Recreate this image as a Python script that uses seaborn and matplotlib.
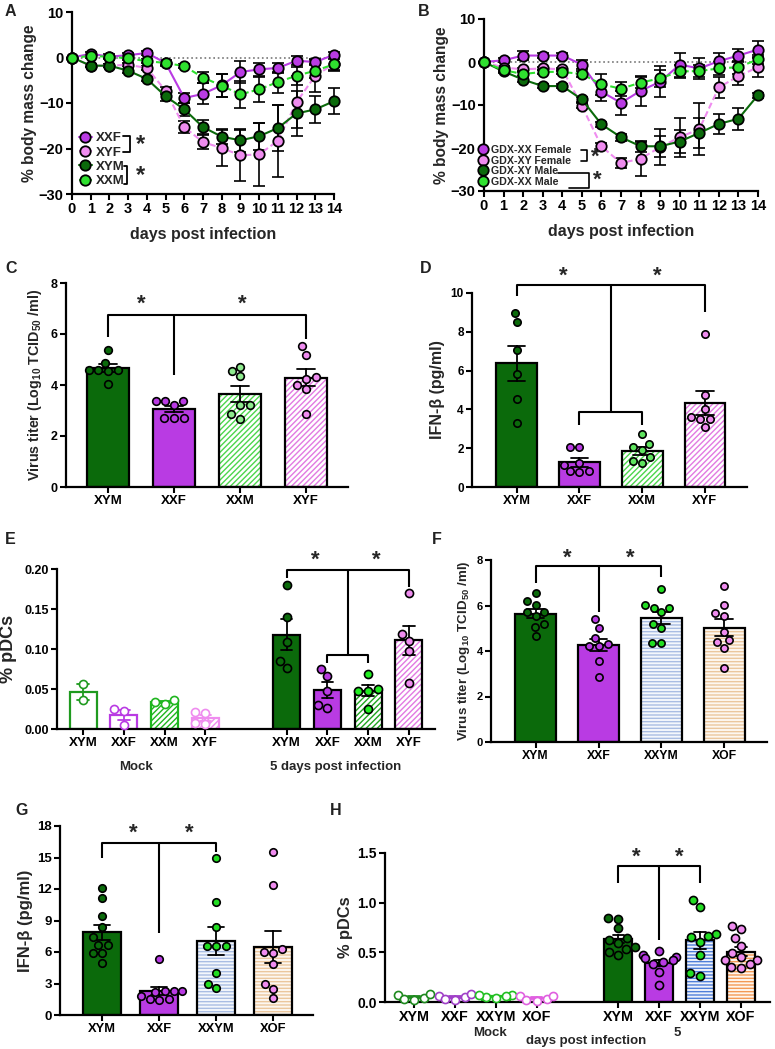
import numpy as np
import pandas as pd
import matplotlib
matplotlib.use('Agg')
import matplotlib.pyplot as plt
import seaborn as sns
from matplotlib.patches import Rectangle

sns.set_style('ticks')
plt.rcParams['font.family'] = ['Liberation Sans', 'DejaVu Sans']
plt.rcParams['font.weight'] = 'bold'
plt.rcParams['axes.labelweight'] = 'bold'
plt.rcParams['mathtext.fontset'] = 'custom'
plt.rcParams['mathtext.rm'] = 'Liberation Sans:bold'
plt.rcParams['mathtext.it'] = 'Liberation Sans:bold:italic'
plt.rcParams['mathtext.bf'] = 'Liberation Sans:bold'
plt.rcParams['mathtext.default'] = 'rm'
plt.rcParams['hatch.linewidth'] = 1.0

DKGREEN = '#0b6a0b'
PURPLE = '#b93be3'
LTGREEN = '#2fe02f'
PINK = '#ef8cef'

# ---- A / B: body mass change over 15 days (mean, sem) ----
days = list(range(15))
a_xxf = [0, 0.8, 0.2, 0.5, 1.0, -1.2, -8.9, -8.0, -6.1, -3.2, -2.6, -2.3, -0.7, -1.0, 0.6]
a_xxf_err = [0, 0.4, 0.6, 0.5, 0.4, 0.6, 1.0, 2.3, 2.5, 2.4, 1.5, 1.0, 1.0, 0.6, 0.5]
a_xyf = [0, -1.8, -1.8, -1.6, -2.3, -7.3, -15.3, -18.6, -19.9, -21.5, -21.3, -18.3, -9.8, -4.0, -1.4]
a_xyf_err = [0, 0.3, 0.3, 0.3, 0.5, 0.8, 1.3, 1.6, 3.9, 5.6, 6.9, 7.9, 5.8, 3.5, 1.5]
a_xym = [0, -1.8, -1.8, -2.9, -4.7, -8.5, -11.4, -15.3, -17.4, -18.2, -17.3, -15.5, -12.3, -11.4, -9.6]
a_xym_err = [0, 0.3, 0.3, 0.4, 0.5, 1.0, 1.4, 1.6, 1.6, 2.5, 3.0, 5.0, 5.0, 3.0, 2.8]
a_xxm = [0, 0.3, 0.2, -0.2, -0.8, -1.2, -1.9, -4.4, -6.2, -8.1, -7.0, -5.4, -4.0, -2.9, -1.5]
a_xxm_err = [0, 0.3, 0.3, 0.3, 0.4, 0.4, 0.5, 1.2, 2.5, 3.0, 2.8, 2.3, 2.0, 1.5, 1.2]

b_xxf = [0, 0.4, 1.5, 1.5, 1.5, -0.6, -6.9, -9.5, -6.7, -4.6, -0.6, -1.5, 0.2, 1.5, 2.9]
b_xxf_err = [0, 0.5, 1.0, 0.5, 0.5, 1.0, 2.2, 2.8, 3.5, 3.6, 2.8, 2.5, 1.8, 1.5, 2.0]
b_xyf = [0, -1.3, -1.7, -1.5, -1.7, -10.2, -19.6, -23.5, -22.5, -19.8, -17.5, -15.6, -5.9, -3.3, -1.2]
b_xyf_err = [0, 0.4, 0.4, 0.4, 0.4, 0.6, 0.8, 1.2, 4.0, 4.2, 4.5, 6.0, 2.5, 2.0, 2.4]
b_xym = [0, -2.2, -4.1, -5.6, -5.6, -8.7, -14.5, -17.5, -19.6, -19.6, -18.5, -16.5, -14.4, -13.2, -7.7]
b_xym_err = [0, 0.4, 0.5, 0.4, 0.4, 0.6, 0.6, 0.8, 1.3, 2.5, 2.6, 3.5, 2.3, 2.5, 0.6]
b_xxm = [0, -1.9, -2.8, -2.3, -2.3, -2.8, -5.2, -6.2, -4.8, -3.8, -2.2, -2.1, -1.5, -1.2, 0.6]
b_xxm_err = [0, 0.4, 0.5, 0.4, 0.4, 0.8, 2.5, 1.6, 1.2, 2.0, 1.5, 1.5, 1.5, 1.5, 1.0]

# ---- C: virus titer ----
c_labels = ['XYM', 'XXF', 'XXM', 'XYF']
c_xym = [5.36, 4.88, 4.59, 4.59, 4.59, 4.54, 4.03]
c_xxf = [3.36, 3.2, 3.36, 3.36, 2.72, 2.72, 2.72]
c_xxm = [4.71, 4.34, 4.54, 2.68, 3.2, 3.2, 2.85]
c_xyf = [5.53, 5.19, 4.25, 4.3, 3.86, 4.01, 2.85]

# ---- D: IFN-beta ----
d_labels = ['XYM', 'XXF', 'XXM', 'XYF']
d_xym = [8.95, 8.49, 7.06, 5.82, 4.56, 3.32]
d_xxf = [2.07, 2.07, 1.25, 1.15, 0.8, 0.8, 0.75]
d_xxm = [2.24, 2.75, 2.07, 1.26, 1.55, 1.9, 1.33]
d_xyf = [7.87, 4.73, 3.61, 4.04, 3.49, 3.1, 3.49]

# ---- E: % pDCs, mock and 5 dpi ----
e_labels = ['XYM', 'XXF', 'XXM', 'XYF']
e_mock_xym = [0.056, 0.036]
e_mock_xxf = [0.025, 0.023, 0.005]
e_mock_xxm = [0.031, 0.034, 0.036]
e_mock_xyf = [0.021, 0.020, 0.008, 0.006]
e_inf_xym = [0.18, 0.14, 0.109, 0.076, 0.085]
e_inf_xxf = [0.075, 0.066, 0.047, 0.026, 0.030]
e_inf_xxm = [0.069, 0.05, 0.048, 0.047, 0.025]
e_inf_xyf = [0.17, 0.11, 0.119, 0.097, 0.058]

# ---- F: virus titer, four core genotypes ----
f_labels = ['XYM', 'XXF', 'XXYM', 'XOF']
f_xym = [6.54, 6.21, 6.02, 5.73, 5.54, 5.73, 5.18, 5.07, 4.68]
f_xxf = [5.39, 5.03, 4.24, 4.3, 4.56, 4.2, 3.54, 2.85]
f_xxym = [6.71, 6.02, 5.91, 5.91, 5.7, 5.03, 5.18, 4.37, 4.37]
f_xof = [6.87, 6.02, 5.54, 5.66, 4.85, 4.39, 4.49, 4.15, 3.27]

# ---- G: IFN-beta ----
g_labels = ['XYM', 'XXF', 'XXYM', 'XOF']
g_xym = [12.1, 11.1, 9.4, 8.4, 6.7, 6.7, 7.4, 5.9, 5.9, 5.0]
g_xxf = [5.3, 2.3, 2.3, 2.3, 2.2, 1.5, 1.4, 1.5, 1.8]
g_xxym = [15.0, 10.8, 8.35, 6.6, 6.6, 6.6, 4.0, 2.6, 3.0]
g_xof = [15.5, 12.4, 5.9, 6.3, 6.0, 4.9, 3.0, 2.5, 1.6]

# ---- H: % pDCs, mock and 5 dpi ----
h_labels = ['XYM', 'XXF', 'XXYM', 'XOF']
h_mock_xym = [0.04, 0.08, 0.07, 0.02, 0.03]
h_mock_xxf = [0.05, 0.08, 0.06, 0.03, 0.02]
h_mock_xxym = [0.05, 0.07, 0.07, 0.06, 0.04]
h_mock_xof = [0.03, 0.06, 0.06, 0.02, 0.01]
h_inf_xym = [0.85, 0.84, 0.74, 0.62, 0.64, 0.59, 0.47, 0.5, 0.53, 0.55]
h_inf_xxf = [0.51, 0.47, 0.45, 0.44, 0.42, 0.40, 0.38, 0.3, 0.17]
h_inf_xxym = [1.03, 0.96, 0.68, 0.66, 0.65, 0.6, 0.47, 0.29, 0.26]
h_inf_xof = [0.77, 0.73, 0.64, 0.56, 0.49, 0.45, 0.42, 0.42, 0.38, 0.35, 0.34]

fig = plt.figure(figsize=(7.75, 10.49), dpi=100)


def panel_axes(l, t, r, b):
    ax = fig.add_axes([l / 775, 1 - b / 1049, (r - l) / 775, (b - t) / 1049])
    sns.despine(ax=ax)
    for s in ('left', 'bottom'):
        ax.spines[s].set_linewidth(1.6)
        ax.spines[s].set_color('black')
    ax.tick_params(width=1.5, length=4, direction='out', pad=2, colors='black')
    return ax


def weight_panel(ax, series):
    ax.plot([0, 14], [0, 0], color='#777777', ls=':', lw=1.2, zorder=1)
    for name, mean, err, color, ls in series:
        ax.errorbar(days, mean, yerr=err, fmt='none', ecolor='black', elinewidth=1.2,
                    capsize=4, capthick=1.2, zorder=2, clip_on=False)
        sns.lineplot(x=days, y=mean, ax=ax, color=color, linestyle=ls, linewidth=1.5,
                     marker='o', markersize=7.5, markeredgecolor='black',
                     markeredgewidth=1.3, label=name, errorbar=None, zorder=3, clip_on=False)
    ax.set_xlim(0, 14)
    ax.set_ylim(-30, 10)
    ax.set_xticks(days)
    ax.set_yticks([-30, -20, -10, 0, 10])
    ax.tick_params(labelsize=10.5)
    ax.set_xlabel('days post infection', fontsize=11.5, labelpad=8)
    ax.set_ylabel('% body mass change', fontsize=11.2, labelpad=1)


def bar_panel(ax, order, groups, styles, width=0.65, dot=5.3):
    keys = [k for k in order if k in groups]
    df = pd.DataFrame({'group': [k for k in keys for _ in groups[k]],
                       'value': [v for k in keys for v in groups[k]]})
    n_l = len(ax.lines)
    n_c = len(ax.collections)
    sns.barplot(data=df, x='group', y='value', order=order, errorbar='se', capsize=0.28,
                width=width, color='white', err_kws={'color': 'black', 'linewidth': 1.3}, ax=ax)
    bars = list(ax.patches)
    for patch, k in zip(bars, keys):
        st = styles[k]
        if st.get('hatch'):
            patch.set_facecolor(st['fill'])
            patch.set_hatch(st['hatch'])
            patch.set_edgecolor(st['hcolor'])
            patch.set_linewidth(0)
            ax.add_patch(Rectangle((patch.get_x(), patch.get_y()), patch.get_width(),
                                   patch.get_height(), fill=False, edgecolor=st['edge'],
                                   linewidth=1.6, zorder=1.05))
        else:
            patch.set_facecolor(st['fill'])
            patch.set_edgecolor(st['edge'])
            patch.set_linewidth(1.6)
    for line, k in zip(ax.lines[n_l:], keys):
        line.set_color(styles[k].get('err', 'black'))
        line.set_zorder(2)
    sns.swarmplot(data=df, x='group', y='value', order=order, color='white', size=dot,
                  edgecolor='black', linewidth=1.2, ax=ax, zorder=4)
    for coll in ax.collections[n_c:]:
        off = coll.get_offsets()
        if len(off) == 0:
            continue
        k = order[int(round(float(np.mean(off[:, 0]))))]
        coll.set_facecolor(styles[k]['dot'])
        coll.set_edgecolor(styles[k].get('dotedge', 'black'))
        coll.set_clip_on(False)
    ax.set_xlabel('')


def bracket(ax, x0, x1, xm, top, d0, d1, dm, stars, lower=None):
    kw = dict(color='black', lw=1.5, clip_on=False, solid_capstyle='butt', zorder=5)
    ax.plot([x0, x0, x1, x1], [d0, top, top, d1], **kw)
    ax.plot([xm, xm], [top, dm], **kw)
    if lower is not None:
        a, b, y, yd = lower
        ax.plot([a, a, b, b], [yd, y, y, yd], **kw)
    for sx, sy in stars:
        ax.text(sx, sy, '*', ha='center', va='center', fontsize=16, clip_on=False)


def solid(c):
    return {'fill': c, 'edge': 'black', 'dot': c}


def striped(c_hatch, dotc, pattern='//////', fill='white', edge='black'):
    return {'fill': fill, 'hatch': pattern, 'hcolor': c_hatch, 'edge': edge, 'dot': dotc}


# ---------------- A ----------------
axA = panel_axes(72, 12, 334, 194)
weight_panel(axA, [('XXF', a_xxf, a_xxf_err, PURPLE, '-'),
                   ('XYF', a_xyf, a_xyf_err, PINK, (0, (3, 1.5))),
                   ('XYM', a_xym, a_xym_err, DKGREEN, '-'),
                   ('XXM', a_xxm, a_xxm_err, LTGREEN, (0, (3, 1.5)))])
axA.legend(loc='lower left', frameon=False, fontsize=9.5, handlelength=1.0, handletextpad=0.3,
           labelspacing=0.16, borderaxespad=0.1, bbox_to_anchor=(0.0, 0.0))
kwb = dict(color='black', lw=1.3, transform=axA.transAxes, clip_on=False)
axA.plot([0.195, 0.22, 0.22, 0.195], [0.319, 0.319, 0.231, 0.231], **kwb)
axA.plot([0.20, 0.21, 0.21, 0.20], [0.154, 0.154, 0.055, 0.055], **kwb)
axA.text(0.26, 0.27, '*', transform=axA.transAxes, fontsize=17, ha='center', va='center')
axA.text(0.26, 0.10, '*', transform=axA.transAxes, fontsize=17, ha='center', va='center')

# ---------------- B ----------------
axB = panel_axes(484, 19, 758, 191)
weight_panel(axB, [('GDX-XX Female', b_xxf, b_xxf_err, PURPLE, '-'),
                   ('GDX-XY Female', b_xyf, b_xyf_err, PINK, (0, (3, 1.5))),
                   ('GDX-XY Male', b_xym, b_xym_err, DKGREEN, '-'),
                   ('GDX-XX Male', b_xxm, b_xxm_err, LTGREEN, (0, (3, 1.5)))])
axB.legend(loc='lower left', frameon=False, fontsize=7.7, handlelength=0.6, handletextpad=0.4,
           labelspacing=0.05, borderaxespad=0.0, bbox_to_anchor=(-0.03, 0.0))
kwb = dict(color='black', lw=1.2, transform=axB.transAxes, clip_on=False)
axB.plot([0.355, 0.375, 0.375, 0.355], [0.238, 0.238, 0.174, 0.174], **kwb)
axB.plot([0.27, 0.385, 0.385, 0.31], [0.105, 0.105, 0.02, 0.02], **kwb)
axB.text(0.405, 0.195, '*', transform=axB.transAxes, fontsize=16, ha='center', va='center')
axB.text(0.415, 0.06, '*', transform=axB.transAxes, fontsize=16, ha='center', va='center')

# ---------------- C ----------------
axC = panel_axes(66, 283, 348, 487)
bar_panel(axC, c_labels, dict(zip(c_labels, [c_xym, c_xxf, c_xxm, c_xyf])),
          {'XYM': solid(DKGREEN), 'XXF': solid(PURPLE),
           'XXM': striped('#4cd64c', '#8eea8e'), 'XYF': striped('#e27ae2', PINK)},
          width=0.64, dot=5.5)
axC.set_xlim(-0.64, 3.64)
axC.set_ylim(0, 8)
axC.set_yticks([0, 2, 4, 6, 8])
axC.tick_params(axis='y', labelsize=9)
axC.tick_params(axis='x', labelsize=9.5)
axC.set_ylabel(r'Virus titer (Log$_{10}$ TCID$_{50}$ /ml)', fontsize=10.3, labelpad=5)
bracket(axC, 0, 3, 1, 6.75, 5.9, 5.8, 4.4, [(0.5, 7.15), (2.03, 7.15)])

# ---------------- D ----------------
axD = panel_axes(472, 293, 747, 487)
bar_panel(axD, d_labels, dict(zip(d_labels, [d_xym, d_xxf, d_xxm, d_xyf])),
          {'XYM': solid(DKGREEN), 'XXF': solid(PURPLE),
           'XXM': striped('#4cd64c', '#5fe35f'), 'XYF': striped('#e27ae2', PINK)})
axD.set_xlim(-0.71, 3.67)
axD.set_ylim(0, 10)
axD.set_yticks([0, 2, 4, 6, 8, 10])
axD.tick_params(axis='y', labelsize=8.5)
axD.tick_params(axis='x', labelsize=9.3)
axD.set_ylabel('IFN-β (pg/ml)', fontsize=11.5, labelpad=4)
bracket(axD, 0, 3, 1.5, 10.4, 9.85, 9.0, 3.85, [(0.75, 10.85), (2.24, 10.85)],
        lower=(1, 2, 3.85, 3.2))

# ---------------- E ----------------
e_order = ['m_XYM', 'm_XXF', 'm_XXM', 'm_XYF', ' ', 'i_XYM', 'i_XXF', 'i_XXM', 'i_XYF']
e_groups = dict(zip(e_order[:4] + e_order[5:],
                    [e_mock_xym, e_mock_xxf, e_mock_xxm, e_mock_xyf,
                     e_inf_xym, e_inf_xxf, e_inf_xxm, e_inf_xyf]))
e_styles = {
    'm_XYM': {'fill': 'white', 'edge': '#1f9a1f', 'dot': 'white', 'dotedge': '#1f9a1f', 'err': '#1f9a1f'},
    'm_XXF': {'fill': 'white', 'edge': PURPLE, 'dot': 'white', 'dotedge': PURPLE, 'err': PURPLE},
    'm_XXM': dict(striped('#1fb51f', 'white', edge='#1fb51f'), dotedge='#1fb51f', err='#1fb51f'),
    'm_XYF': dict(striped(PINK, 'white', edge=PINK), dotedge=PINK, err=PINK),
    'i_XYM': solid(DKGREEN), 'i_XXF': solid(PURPLE),
    'i_XXM': striped('#1fa51f', '#22ee22'), 'i_XYF': striped('#e27ae2', PINK),
}
axE = panel_axes(57, 569, 435, 729)
bar_panel(axE, e_order, e_groups, e_styles, width=0.66, dot=5.8)
axE.set_xlim(-0.64, 8.64)
axE.set_ylim(0, 0.2)
axE.set_yticks([0, 0.05, 0.10, 0.15, 0.20])
axE.set_xticks([0, 1, 2, 3, 5, 6, 7, 8])
axE.set_xticklabels(e_labels + e_labels)
axE.tick_params(axis='y', labelsize=9)
axE.tick_params(axis='x', labelsize=9.5)
axE.set_ylabel('% pDCs', fontsize=13, labelpad=5)
tr = axE.get_xaxis_transform()
axE.text(1.3, -0.24, 'Mock', transform=tr, ha='center', va='center', fontsize=9.5)
axE.text(6.2, -0.24, '5 days post infection', transform=tr, ha='center', va='center', fontsize=9.5)
bracket(axE, 5, 8, 6.5, 0.199, 0.189, 0.1775, 0.0925, [(5.7, 0.211), (7.2, 0.211)],
        lower=(6, 7, 0.0925, 0.0825))

# ---------------- F ----------------
axF = panel_axes(491, 560, 767, 742)
bar_panel(axF, f_labels, dict(zip(f_labels, [f_xym, f_xxf, f_xxym, f_xof])),
          {'XYM': solid(DKGREEN), 'XXF': solid(PURPLE),
           'XXYM': striped('#a9bde3', '#22dd22', pattern='-----', fill='#f4f7fc'),
           'XOF': striped('#ebc79d', PINK, pattern='-----', fill='#fdf7f0')},
          dot=5.2)
axF.set_xlim(-0.71, 3.68)
axF.set_ylim(0, 8)
axF.set_yticks([0, 2, 4, 6, 8])
axF.tick_params(axis='y', labelsize=8)
axF.tick_params(axis='x', labelsize=8.8)
axF.set_ylabel(r'Virus titer (Log$_{10}$ TCID$_{50}$ /ml)', fontsize=9.6, labelpad=3)
bracket(axF, 0, 2, 1, 7.74, 7.0, 7.25, 5.7, [(0.5, 8.1), (1.5, 8.1)])

# ---------------- G ----------------
axG = panel_axes(60, 826, 313, 1015)
bar_panel(axG, g_labels, dict(zip(g_labels, [g_xym, g_xxf, g_xxym, g_xof])),
          {'XYM': solid(DKGREEN), 'XXF': solid(PURPLE),
           'XXYM': striped('#a9bde3', '#22dd22', pattern='-----', fill='#f4f7fc'),
           'XOF': striped('#ebc79d', PINK, pattern='-----', fill='#fdf7f0')},
          width=0.66, dot=5.4)
axG.set_xlim(-0.74, 3.7)
axG.set_ylim(0, 18)
axG.set_yticks([0, 3, 6, 9, 12, 15, 18])
axG.tick_params(axis='y', labelsize=9.5)
axG.tick_params(axis='x', labelsize=9.3)
axG.set_ylabel('IFN-β (pg/ml)', fontsize=12, labelpad=3)
bracket(axG, 0, 2, 1, 16.4, 15.0, 15.5, 7.8, [(0.54, 17.3), (1.53, 17.3)])

# ---------------- H ----------------
h_order = ['m_XYM', 'm_XXF', 'm_XXYM', 'm_XOF', ' ', 'i_XYM', 'i_XXF', 'i_XXYM', 'i_XOF']
h_groups = dict(zip(h_order[:4] + h_order[5:],
                    [h_mock_xym, h_mock_xxf, h_mock_xxym, h_mock_xof,
                     h_inf_xym, h_inf_xxf, h_inf_xxym, h_inf_xof]))
h_styles = {
    'm_XYM': {'fill': 'white', 'edge': '#1f8a1f', 'dot': 'white', 'dotedge': '#1f8a1f', 'err': '#1f8a1f'},
    'm_XXF': {'fill': 'white', 'edge': '#a040c8', 'dot': 'white', 'dotedge': '#a040c8', 'err': '#a040c8'},
    'm_XXYM': {'fill': 'white', 'edge': '#22c022', 'dot': 'white', 'dotedge': '#22c022', 'err': '#22c022'},
    'm_XOF': {'fill': 'white', 'edge': '#e060e0', 'dot': 'white', 'dotedge': '#e060e0', 'err': '#e060e0'},
    'i_XYM': solid(DKGREEN), 'i_XXF': solid(PURPLE),
    'i_XXYM': striped('#4f7fd9', '#22dd22', pattern='-----', fill='#eef2fb'),
    'i_XOF': striped('#f39a55', PINK, pattern='-----', fill='#fff6ee'),
}
axH = panel_axes(385, 853, 770, 1002)
bar_panel(axH, h_order, h_groups, h_styles, width=0.68, dot=5.8)
axH.set_xlim(-0.71, 8.71)
axH.set_ylim(0, 1.5)
axH.set_yticks([0, 0.5, 1.0, 1.5])
axH.set_xticks([0, 1, 2, 3, 5, 6, 7, 8])
axH.set_xticklabels(h_labels + h_labels)
axH.tick_params(axis='y', labelsize=10)
axH.tick_params(axis='x', labelsize=10.3)
axH.set_ylabel('% pDCs', fontsize=11.8, labelpad=3)
tr = axH.get_xaxis_transform()
axH.text(1.87, -0.21, 'Mock', transform=tr, ha='center', va='center', fontsize=9.5)
axH.text(4.2, -0.26, 'days post infection', transform=tr, ha='center', va='center', fontsize=9.5)
axH.text(6.45, -0.21, '5', transform=tr, ha='center', va='center', fontsize=9.5)
bracket(axH, 5, 7, 6, 1.37, 1.2, 1.2, 0.62, [(5.45, 1.46), (6.5, 1.46)])

# panel letters
for letter, (px, py) in {'A': (5, 4), 'B': (418, 4), 'C': (5, 261), 'D': (420, 261),
                         'E': (5, 532), 'F': (432, 532), 'G': (15, 803), 'H': (330, 803)}.items():
    fig.text(px / 775, 1 - py / 1049, letter, fontsize=11.5, va='top', ha='left', color='#222222')

fig.savefig('out.png', dpi=100)
